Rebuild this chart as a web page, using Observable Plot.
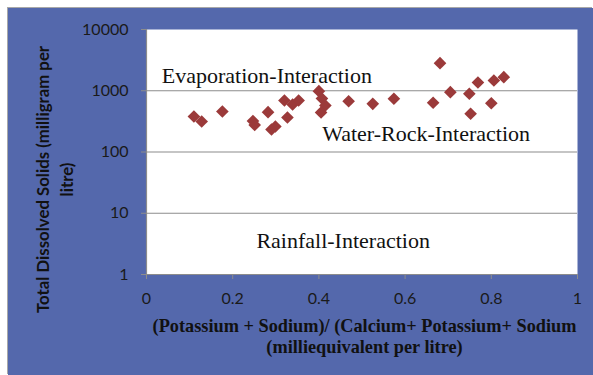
<!DOCTYPE html>
<html>
<head>
<meta charset="utf-8">
<script src="https://cdn.jsdelivr.net/npm/d3@7"></script>
<script src="https://cdn.jsdelivr.net/npm/@observablehq/plot@0.6"></script>
<style>
  html, body { margin: 0; padding: 0; background: #ffffff; }
  #chart { position: absolute; left: 8px; top: 8px; box-shadow: -1px -1px 0 #a8a8a8; }
  #chart svg { display: block; }
</style>
</head>
<body>
<div id="chart"></div>
<script>
// Ratio (K+Na)/(Ca+K+Na), meq/l
const ratio = [0.110, 0.128, 0.176, 0.247, 0.251, 0.282, 0.290, 0.299, 0.320, 0.327,
               0.339, 0.353, 0.400, 0.407, 0.415, 0.405, 0.469, 0.525, 0.574, 0.665,
               0.681, 0.705, 0.749, 0.752, 0.769, 0.800, 0.806, 0.829];
// Total dissolved solids, mg/l
const tds = [380, 315, 458, 321, 276, 447, 233, 261, 693, 366,
             597, 693, 984, 747, 574, 442, 675, 612, 739, 636,
             2818, 947, 892, 421, 1363, 626, 1470, 1665];

const xTicks = [0, 0.2, 0.4, 0.6, 0.8, 1];
const yTicks = [1, 10, 100, 1000, 10000];
const gridLines = [1, 10, 100, 1000];

const zoneNames = ["Evaporation-Interaction", "Water-Rock-Interaction", "Rainfall-Interaction"];
const zoneX = [0.0355, 0.4076, 0.255];
const zoneY = [1774, 200, 3.5];

const xTitle = "(Potassium + Sodium)/ (Calcium+ Potassium+ Sodium\n(milliequivalent per litre)";
const yTitle = "Total Dissolved Solids (milligram per\nlitre)";

const points = ratio.map((r, i) => ({x: r, y: tds[i]}));
const zones = zoneNames.map((t, i) => ({text: t, x: zoneX[i], y: zoneY[i]}));

const chart = Plot.plot({
  width: 585,
  height: 367,
  marginLeft: 138,
  marginRight: 16,
  marginTop: 21,
  marginBottom: 101,
  style: {background: "#5468ac", fontFamily: "Lato", overflow: "visible"},
  x: {domain: [0, 1]},
  y: {type: "log", domain: [1, 10000]},
  marks: [
    Plot.frame({fill: "white", stroke: null}),
    Plot.ruleY(gridLines, {stroke: "#8c8c8c", strokeWidth: 1.2}),
    Plot.ruleX([0], {stroke: "#8c8c8c", strokeWidth: 1.2}),
    Plot.axisY(yTicks, {tickSize: 5, tickPadding: 13, stroke: "#8c8c8c", fill: "#1a1a1a",
      fontSize: 16, tickFormat: d => String(d), label: null}),
    Plot.axisX(xTicks, {tickSize: 5, tickPadding: 13, stroke: "#8c8c8c", fill: "#1a1a1a",
      fontSize: 16, tickFormat: d => String(d), label: null}),
    Plot.dot(points, {x: "x", y: "y", symbol: "diamond2", r: 5.7, fill: "#9b3a3a", stroke: null}),
    Plot.text(zones, {x: "x", y: "y", text: "text", textAnchor: "start", lineAnchor: "middle",
      fontFamily: "Liberation Serif", fontSize: 22, fill: "#111"}),
    Plot.text([yTitle], {frameAnchor: "left", rotate: -90, dx: -93, dy: 27.5,
      textAnchor: "middle", lineAnchor: "middle",
      lineHeight: 1.4, fontWeight: "bold", fontSize: 16.8, fontFamily: "Lato", fill: "#111"}),
    Plot.text([xTitle], {frameAnchor: "bottom", dx: 2.5, dy: 61.5,
      textAnchor: "middle", lineAnchor: "middle", lineHeight: 1.15,
      fontWeight: "bold", fontSize: 18.3, fontFamily: "Liberation Serif", fill: "#111"})
  ]
});
document.getElementById("chart").appendChild(chart);
</script>
</body>
</html>
